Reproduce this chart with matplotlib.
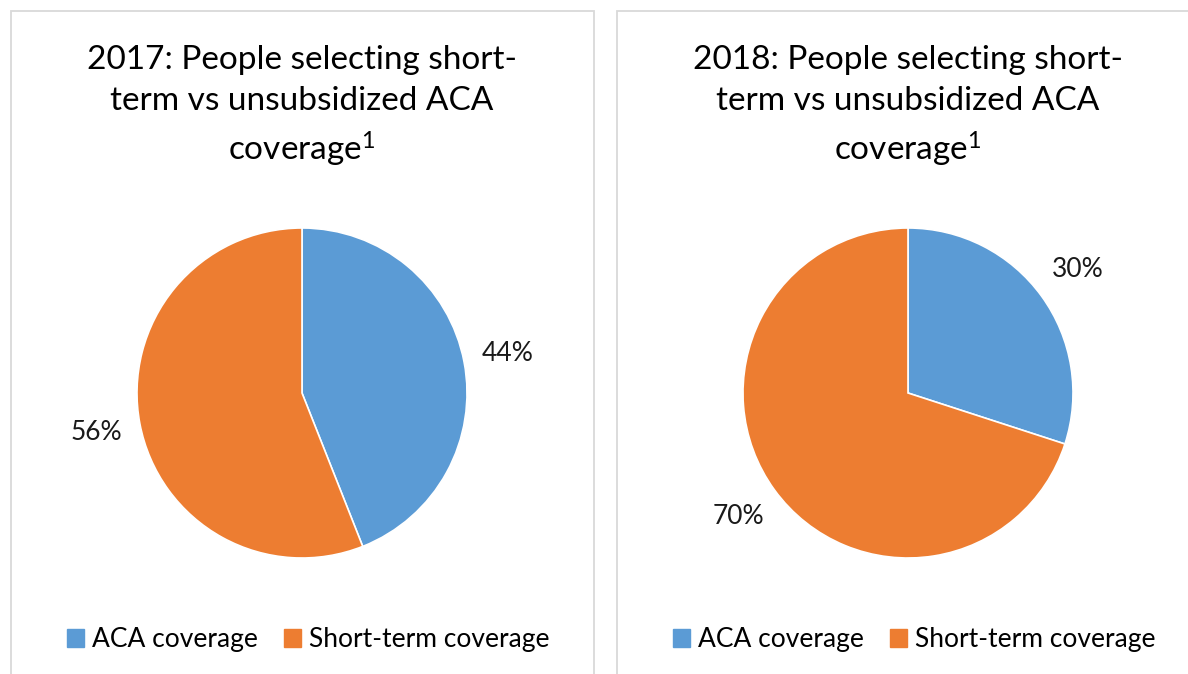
import matplotlib.pyplot as plt
from matplotlib.patches import Rectangle

# =========================================================
# Data
# =========================================================
categories = ["ACA coverage", "Short-term coverage"]
share_2017 = [44, 56]
share_2018 = [30, 70]
titles = [
    "2017: People selecting short-\nterm vs unsubsidized ACA\ncoverage$^{1}$",
    "2018: People selecting short-\nterm vs unsubsidized ACA\ncoverage$^{1}$",
]
colors = ["#5B9BD5", "#ED7D31"]

W, H = 1188, 674
plt.rcParams["font.family"] = ["Lato", "DejaVu Sans"]
plt.rcParams["mathtext.fontset"] = "custom"
plt.rcParams["mathtext.rm"] = "Lato"
plt.rcParams["mathtext.it"] = "Lato"
plt.rcParams["mathtext.default"] = "rm"

fig = plt.figure(figsize=(W / 100, H / 100), dpi=100)


def px_box(x0, y0, w, h):
    # pixel box (top-left origin) -> figure fraction
    return [x0 / W, 1 - (y0 + h) / H, w / W, h / H]


# panel borders
for x0, x1 in [(11, 594), (617, 1200)]:
    fig.patches.append(Rectangle(
        (x0 / W, -0.1), (x1 - x0) / W, 1 - 11 / H + 0.1,
        transform=fig.transFigure, fill=False, edgecolor="#d9d9d9", linewidth=1.3))

panels = [(302, share_2017, titles[0]), (908, share_2018, titles[1])]
for cx, values, title in panels:
    r = 165
    cy = 393
    ax = fig.add_axes(px_box(cx - r, cy - r, 2 * r, 2 * r))
    ax.pie(values, colors=colors, startangle=90, counterclock=False,
           autopct="%d%%", pctdistance=1.27,
           wedgeprops=dict(edgecolor="white", linewidth=1.2),
           textprops=dict(fontsize=19, color="#1a1a1a"))
    ax.set_xlim(-1, 1)
    ax.set_ylim(-1, 1)
    ax.set_aspect("equal")

    fig.text(cx / W, 1 - 45 / H, title, ha="center", va="top",
             fontsize=24, linespacing=1.45, color="black")

    # legend
    handles = [Rectangle((0, 0), 1, 1, color=c) for c in colors]
    fig.legend(handles, categories, loc="center", ncol=2,
               bbox_to_anchor=((cx + 6) / W, 1 - 640 / H), frameon=False,
               fontsize=19, handlelength=0.65, handleheight=0.65,
               handletextpad=0.3, columnspacing=1.0)

fig.savefig("out.png", dpi=100)
